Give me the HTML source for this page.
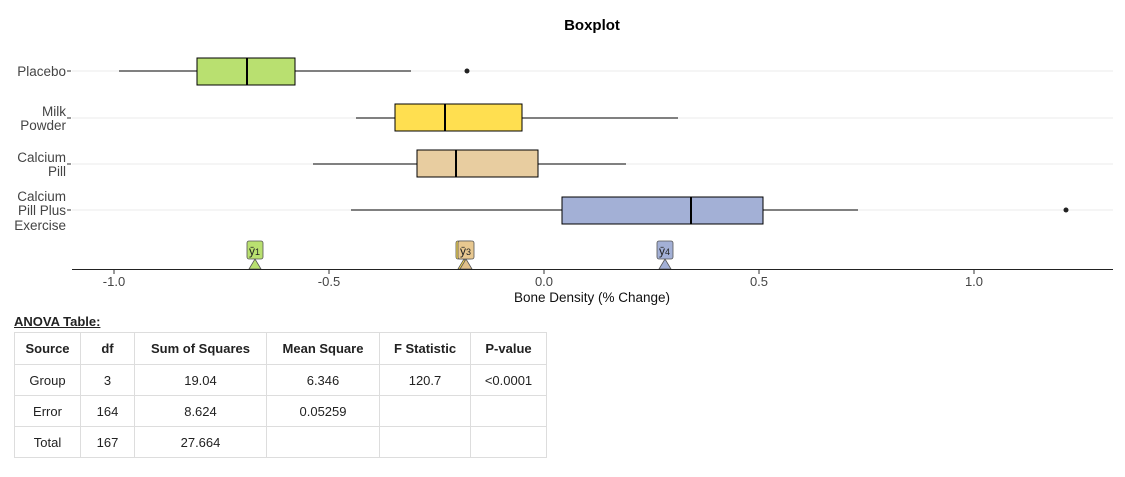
<!DOCTYPE html>
<html><head><style>
body{margin:0;background:#fff;font-family:"Liberation Sans",sans-serif;}
.wrap{position:relative;width:1125px;height:477px;overflow:hidden}
table{position:absolute;left:14px;top:332px;border-collapse:collapse;font-size:13px;color:#222}
td,th{border:1px solid #ddd;text-align:center;padding:0;height:30px}
th{font-weight:bold}
.at{position:absolute;left:14px;top:314px;font-size:13px;font-weight:bold;text-decoration:underline;color:#222}
</style></head><body><div class="wrap">
<svg width="1125" height="320" style="position:absolute;left:0;top:0" font-family="Liberation Sans, sans-serif">
<text x="592" y="30" font-size="15" font-weight="bold" text-anchor="middle">Boxplot</text>
<g stroke="#ebebeb" stroke-width="1">
<line x1="72" x2="1113" y1="71" y2="71"/><line x1="72" x2="1113" y1="118" y2="118"/>
<line x1="72" x2="1113" y1="164" y2="164"/><line x1="72" x2="1113" y1="210" y2="210"/></g>
<g font-size="13.5" fill="#444" text-anchor="end">
<text x="66" y="76">Placebo</text>
<text x="66" y="116">Milk</text><text x="66" y="130">Powder</text>
<text x="66" y="162">Calcium</text><text x="66" y="176">Pill</text>
<text x="66" y="201">Calcium</text><text x="66" y="215">Pill Plus</text><text x="66" y="230">Exercise</text>
</g>
<g stroke="#333"><line x1="67" x2="71" y1="71" y2="71"/><line x1="67" x2="71" y1="118" y2="118"/><line x1="67" x2="71" y1="164" y2="164"/><line x1="67" x2="71" y1="210" y2="210"/></g>
<g stroke="#000" stroke-width="1">
<line x1="119" x2="411" y1="71" y2="71"/>
<rect x="197" y="58" width="98" height="27" fill="#b9e070"/><line x1="247" x2="247" y1="58" y2="85" stroke-width="2"/>
<line x1="356" x2="678" y1="118" y2="118"/>
<rect x="395" y="104" width="127" height="27" fill="#ffdf50"/><line x1="445" x2="445" y1="104" y2="131" stroke-width="2"/>
<line x1="313" x2="626" y1="164" y2="164"/>
<rect x="417" y="150" width="121" height="27" fill="#e8cda0"/><line x1="456" x2="456" y1="150" y2="177" stroke-width="2"/>
<line x1="351" x2="858" y1="210" y2="210"/>
<rect x="562" y="197" width="201" height="27" fill="#a3b0d6"/><line x1="691" x2="691" y1="197" y2="224" stroke-width="2"/>
</g>
<circle cx="467" cy="71" r="2.5" fill="#222"/><circle cx="1066" cy="210" r="2.5" fill="#222"/>
<g stroke="#555" stroke-width="0.8">
<polygon points="249,269 255,259 261,269" fill="#b9e070"/>
<polygon points="458,269 464,259 470,269" fill="#ffdf50"/>
<polygon points="460,269 466,259 472,269" fill="#e0c08a"/>
<polygon points="659,269 665,259 671,269" fill="#a3b0d6"/>
<rect x="247" y="241" width="16" height="18" rx="2" fill="#b9e070"/>
<rect x="456" y="241" width="16" height="18" rx="2" fill="#ffdf50"/>
<rect x="458" y="241" width="16" height="18" rx="2" fill="#e8c890"/>
<rect x="657" y="241" width="16" height="18" rx="2" fill="#a3b0d6"/>
</g>
<g font-size="12" fill="#222"><text x="249" y="255">ȳ<tspan font-size="9">1</tspan></text><text x="460" y="255">ȳ<tspan font-size="9">3</tspan></text><text x="659" y="255">ȳ<tspan font-size="9">4</tspan></text></g>
<line x1="72" x2="1113" y1="269.5" y2="269.5" stroke="#222"/>
<g stroke="#333"><line x1="114" x2="114" y1="270" y2="274"/><line x1="329" x2="329" y1="270" y2="274"/><line x1="544" x2="544" y1="270" y2="274"/><line x1="759" x2="759" y1="270" y2="274"/><line x1="974" x2="974" y1="270" y2="274"/></g>
<g font-size="13" fill="#444" text-anchor="middle"><text x="114" y="286">-1.0</text><text x="329" y="286">-0.5</text><text x="544" y="286">0.0</text><text x="759" y="286">0.5</text><text x="974" y="286">1.0</text></g>
<text x="592" y="302" font-size="13.5" text-anchor="middle" fill="#111">Bone Density (% Change)</text>
</svg>
<div class="at">ANOVA Table:</div>
<table>
<tr><th style="width:65px;height:31px">Source</th><th style="width:53px">df</th><th style="width:131px">Sum of Squares</th><th style="width:112px">Mean Square</th><th style="width:90px">F Statistic</th><th style="width:75px">P-value</th></tr>
<tr><td>Group</td><td>3</td><td>19.04</td><td>6.346</td><td>120.7</td><td>&lt;0.0001</td></tr>
<tr><td>Error</td><td>164</td><td>8.624</td><td>0.05259</td><td></td><td></td></tr>
<tr><td>Total</td><td>167</td><td>27.664</td><td></td><td></td><td></td></tr>
</table>
</div></body></html>
